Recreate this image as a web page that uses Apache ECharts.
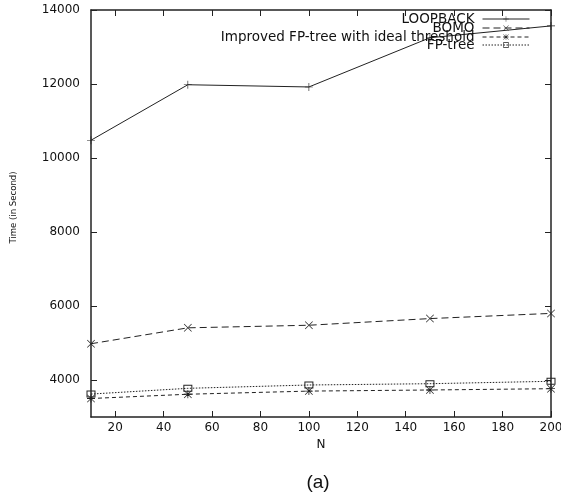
<!DOCTYPE html>
<html>
<head>
<meta charset="utf-8">
<script src="https://cdn.jsdelivr.net/npm/echarts@6/dist/echarts.min.js"></script>
<style>html,body{margin:0;padding:0;background:#fff}#c{width:561px;height:498px}</style>
</head>
<body>
<div id="c"></div>
<script>
const xValues = [10, 50, 100, 150, 200];
const loopback = [10480, 11980, 11920, 13250, 13570];
const bomo = [4980, 5410, 5480, 5660, 5800];
const improved = [3500, 3615, 3700, 3730, 3765];
const fptree = [3620, 3775, 3865, 3900, 3965];
const seriesNames = ['LOOPBACK', 'BOMO', 'Improved FP-tree with ideal threshold', 'FP-tree'];
const xTicks = [20, 40, 60, 80, 100, 120, 140, 160, 180, 200];
const yTicks = [4000, 6000, 8000, 10000, 12000, 14000];

const pair = (vals) => xValues.map((x, i) => [x, vals[i]]);
const INK = '#222';
const PLUS = 'path://M0,4.6L10,4.6L10,5.4L0,5.4Z M4.6,0L5.4,0L5.4,10L4.6,10Z';
const CROSS = 'path://M0.6,0L5,4.4L9.4,0L10,0.6L5.6,5L10,9.4L9.4,10L5,5.6L0.6,10L0,9.4L4.4,5L0,0.6Z';
const STAR = 'path://M0.6,0L5,4.4L9.4,0L10,0.6L5.6,5L10,9.4L9.4,10L5,5.6L0.6,10L0,9.4L4.4,5L0,0.6Z M0,4.5L10,4.5L10,5.5L0,5.5Z M4.5,0L5.5,0L5.5,10L4.5,10Z';
const BOX = 'path://M0,0L10,0L10,8L0,8Z M1.1,1.1L1.1,6.9L8.9,6.9L8.9,1.1Z';

const chart = echarts.init(document.getElementById('c'));
const axisFont = { fontFamily: 'DejaVu Sans', fontSize: 12, color: '#111', formatter: (v) => String(v) };
const tickStyle = { show: true, inside: true, length: 6, lineStyle: { color: INK, width: 1 } };
const lineAx = { show: true, onZero: false, lineStyle: { color: INK, width: 1.5 } };

const legendTops = [12, 21, 30, 38];
const mkLegend = (name, i) => ({
  data: [name], orient: 'vertical', right: 31, top: legendTops[i], align: 'right',
  padding: 0, itemWidth: 47, itemHeight: 7, selectedMode: false,
  lineStyle: { width: 1 },
  textStyle: { fontFamily: 'DejaVu Sans', fontSize: 13.5, color: '#111', padding: [0, 3, 0, 0] }
});

chart.setOption({
  animation: false,
  backgroundColor: '#fff',
  grid: { left: 91, right: 10, top: 10, bottom: 81, outerBoundsMode: 'none', containLabel: false },
  legend: seriesNames.map(mkLegend),
  xAxis: [{
    type: 'value', min: 10, max: 200, position: 'bottom',
    name: 'N', nameLocation: 'middle', nameGap: 16,
    nameTextStyle: { fontFamily: 'DejaVu Sans', fontSize: 12, color: '#111' },
    axisLine: lineAx, splitLine: { show: false },
    axisTick: Object.assign({ customValues: xTicks }, tickStyle),
    axisLabel: Object.assign({ customValues: xTicks, margin: 5, showMaxLabel: true }, axisFont)
  }, {
    type: 'value', min: 10, max: 200, position: 'top',
    axisLine: lineAx, splitLine: { show: false },
    axisTick: Object.assign({ customValues: xTicks }, tickStyle),
    axisLabel: { show: false }
  }],
  yAxis: [{
    type: 'value', min: 3000, max: 14000, position: 'left',
    name: 'Time (in Second)', nameLocation: 'middle', nameGap: 72, nameRotate: 90,
    nameTextStyle: { fontFamily: 'DejaVu Sans Condensed, Liberation Sans', fontSize: 9.5, color: '#111', padding: [0, 0, 0, 12] },
    axisLine: lineAx, splitLine: { show: false },
    axisTick: Object.assign({ customValues: yTicks }, tickStyle),
    axisLabel: Object.assign({ customValues: yTicks, margin: 11 }, axisFont)
  }, {
    type: 'value', min: 3000, max: 14000, position: 'right',
    axisLine: lineAx, splitLine: { show: false },
    axisTick: Object.assign({ customValues: yTicks }, tickStyle),
    axisLabel: { show: false }
  }],
  series: [{
    name: seriesNames[0], type: 'line', data: pair(loopback),
    symbol: PLUS, symbolSize: 8,
    lineStyle: { color: INK, width: 1, type: 'solid' },
    itemStyle: { color: INK }
  }, {
    name: seriesNames[1], type: 'line', data: pair(bomo),
    symbol: CROSS, symbolSize: 8,
    lineStyle: { color: INK, width: 1, type: [7, 4] },
    itemStyle: { color: INK }
  }, {
    name: seriesNames[2], type: 'line', data: pair(improved),
    symbol: STAR, symbolSize: 8,
    lineStyle: { color: INK, width: 1, type: [4, 3] },
    itemStyle: { color: INK }
  }, {
    name: seriesNames[3], type: 'line', data: pair(fptree),
    symbol: BOX, symbolSize: [9, 7],
    lineStyle: { color: INK, width: 1, type: [1.5, 1.5] },
    itemStyle: { color: INK }
  }],
  graphic: [{
    type: 'text', x: 318, y: 483,
    style: { text: '(a)', fontFamily: 'Liberation Sans', fontSize: 19, fill: '#111', align: 'center', verticalAlign: 'middle' }
  }]
});
</script>
</body>
</html>
